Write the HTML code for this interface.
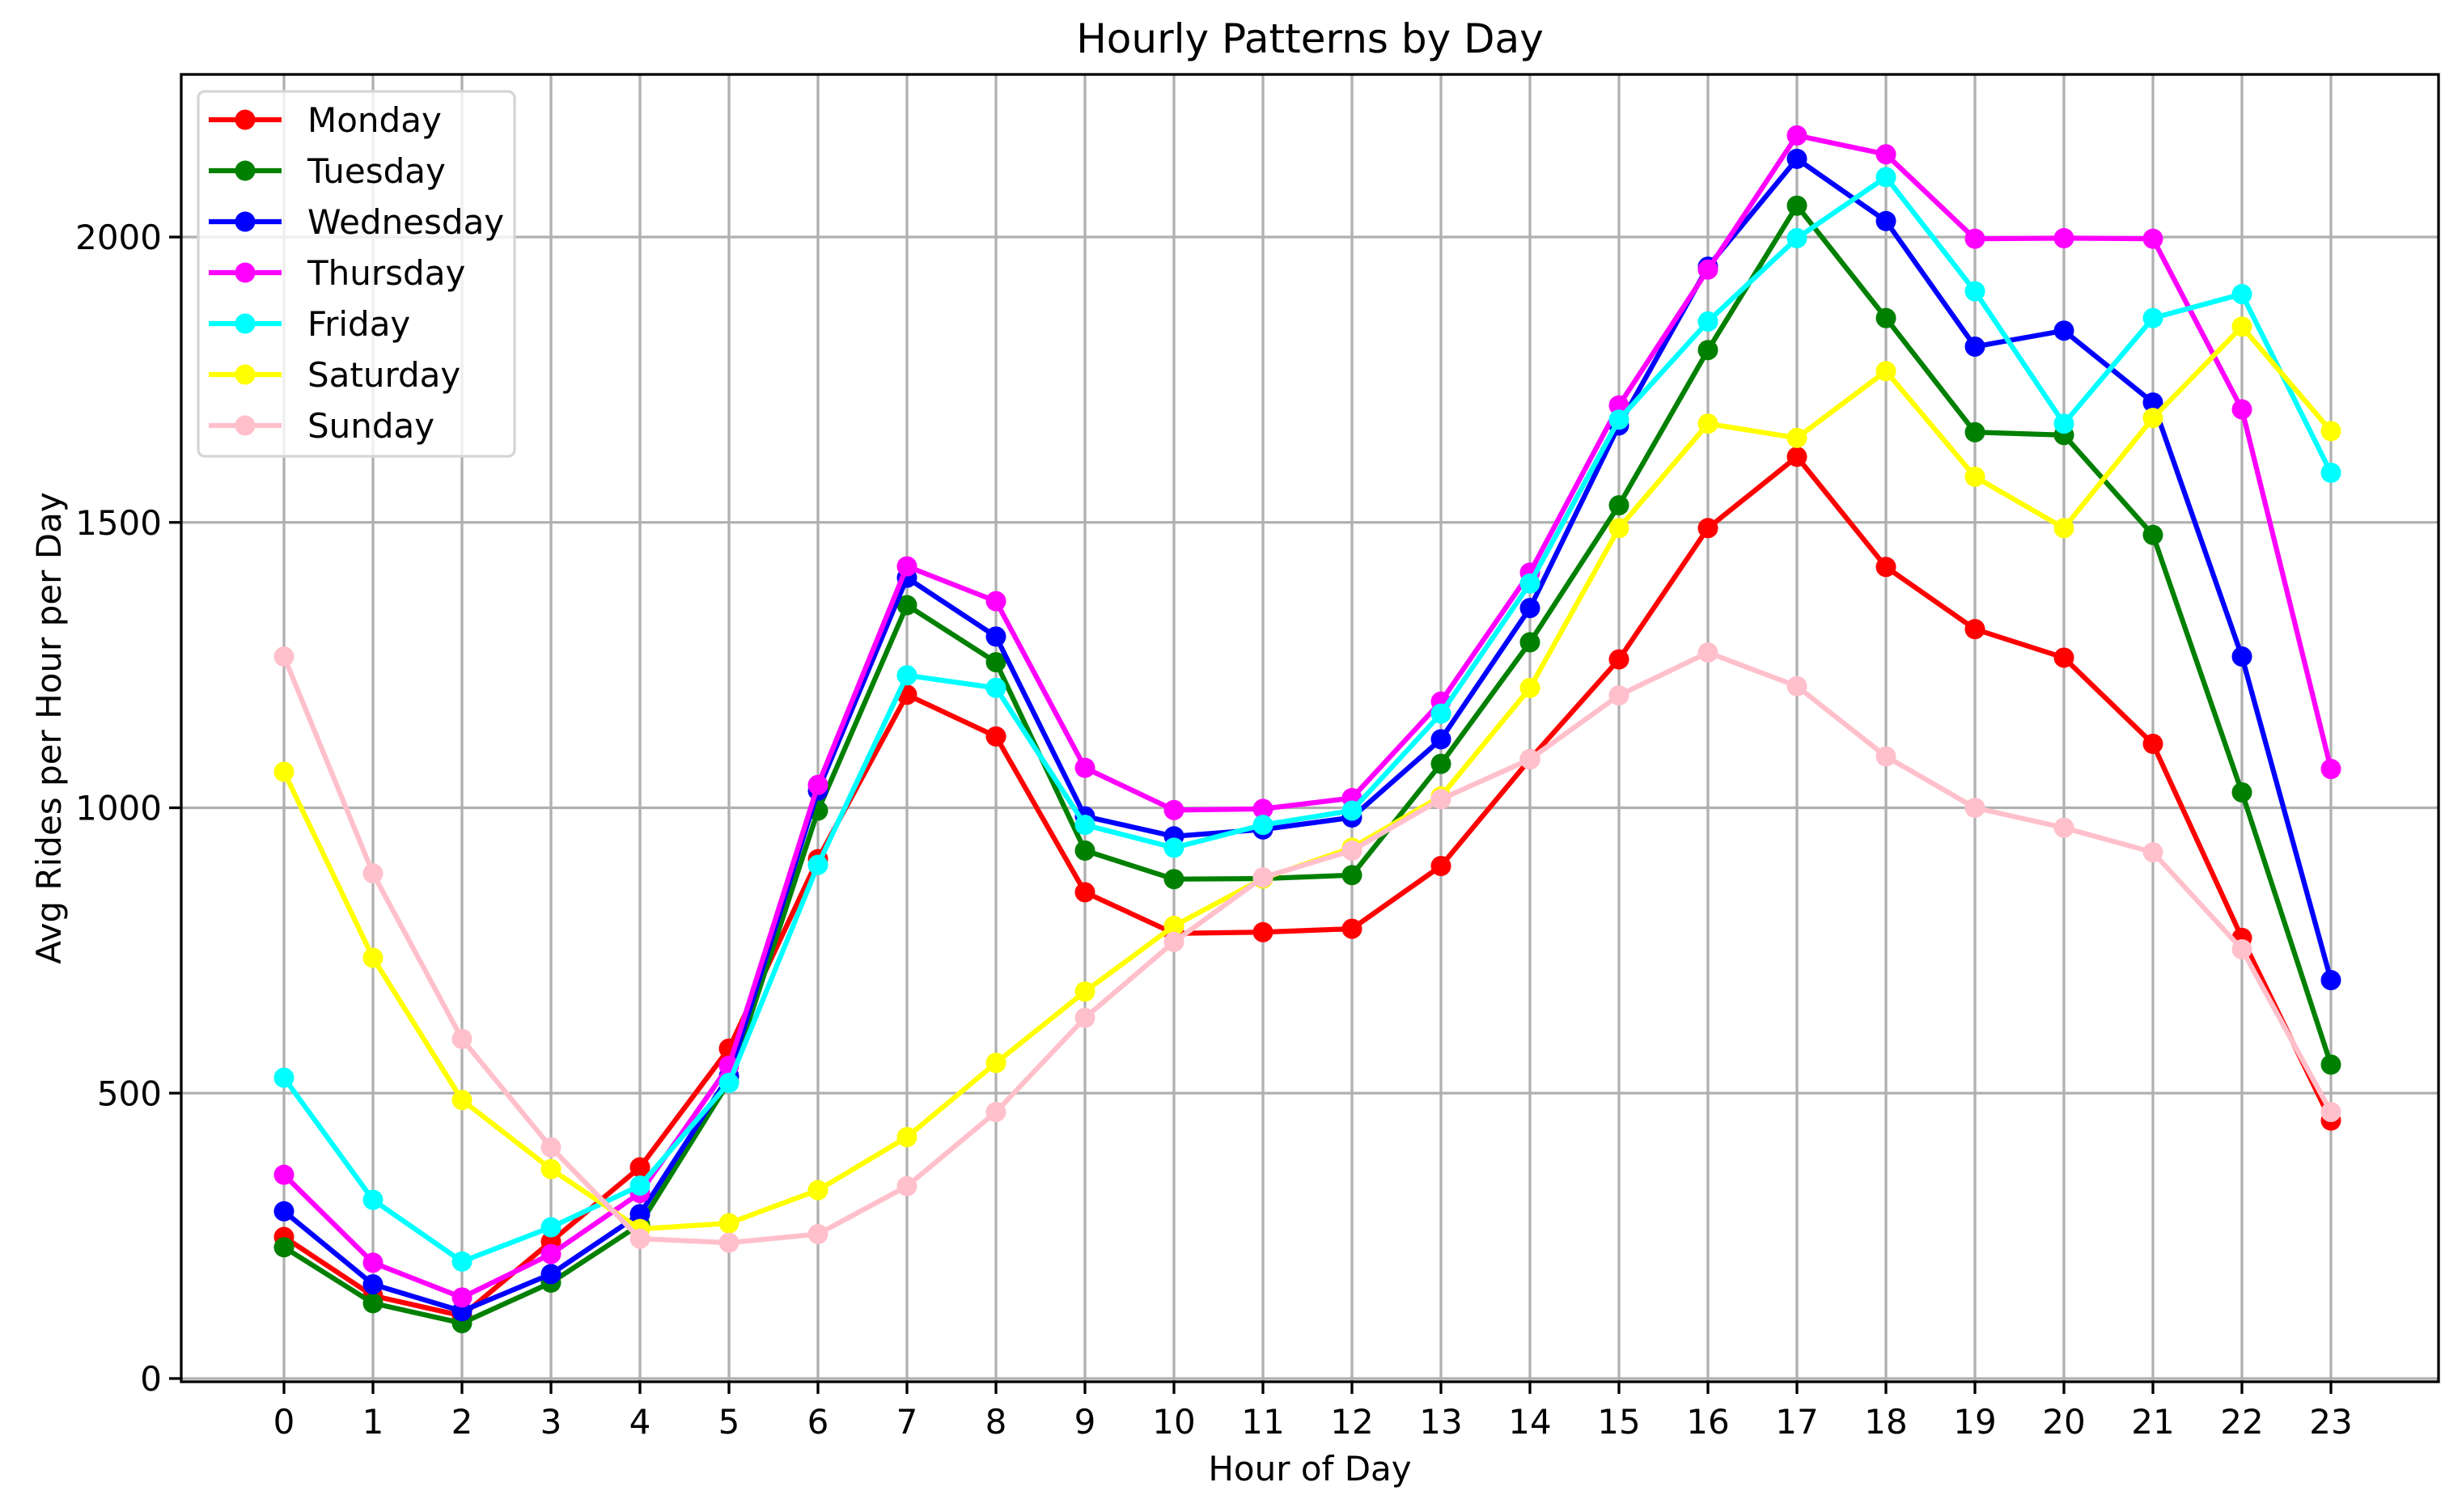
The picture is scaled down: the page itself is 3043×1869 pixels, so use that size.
<!DOCTYPE html>
<html><head><meta charset="utf-8"><style>
html,body{margin:0;padding:0;background:#fff;}
svg{display:block;font-family:"DejaVu Sans","Liberation Sans",sans-serif;}
</style></head><body>
<svg id="chart" width="3043" height="1869" viewBox="0 0 3043 1869" xmlns="http://www.w3.org/2000/svg">
<rect width="3043" height="1869" fill="#fff"/>
<text x="1619" y="65" font-size="50" text-anchor="middle">Hourly Patterns by Day</text>
<text x="1619" y="1830" font-size="42" text-anchor="middle">Hour of Day</text>
<text x="0" y="0" font-size="42" text-anchor="middle" transform="translate(75,900) rotate(-90)">Avg Rides per Hour per Day</text>
<g id="grid"></g>
<g id="series"></g>
<g id="axes"></g>
<g id="legend"></g>
</svg>
<script>
const hours = [0,1,2,3,4,5,6,7,8,9,10,11,12,13,14,15,16,17,18,19,20,21,22,23];
const yTicks = [0,500,1000,1500,2000];
const dayNames = ["Monday","Tuesday","Wednesday","Thursday","Friday","Saturday","Sunday"];
const monday = [248,145,110,240,370,578,910,1198,1125,852,780,782,788,898,1085,1260,1490,1615,1422,1313,1263,1112,772,452];
const tuesday = [230,132,97,168,270,520,995,1355,1255,925,875,876,882,1077,1290,1530,1802,2055,1858,1658,1653,1478,1027,550];
const wednesday = [293,165,118,183,288,530,1030,1403,1300,985,950,962,983,1120,1350,1670,1948,2137,2028,1808,1836,1710,1265,698];
const thursday = [357,203,142,218,325,548,1040,1423,1362,1070,996,998,1017,1186,1412,1705,1943,2178,2145,1997,1998,1997,1698,1068];
const friday = [527,313,205,265,338,518,900,1232,1210,970,930,970,995,1165,1393,1680,1852,1998,2105,1905,1673,1858,1900,1587];
const saturday = [1063,737,488,367,262,272,330,423,553,678,793,876,930,1020,1210,1490,1673,1648,1765,1580,1490,1683,1843,1660];
const sunday = [1265,885,595,405,245,238,253,337,467,632,765,878,925,1015,1085,1197,1272,1213,1090,1000,965,922,752,467];
const seriesValues = [monday,tuesday,wednesday,thursday,friday,saturday,sunday];
const colors = ["#ff0000","#008000","#0000ff","#ff00ff","#00ffff","#ffff00","#ffc0cb"];

const NS="http://www.w3.org/2000/svg";
const L=224,R=3014,T=92,B=1708;
const xS=h=>351+h*110;
const yS=v=>1704-v*(1704-293)/2000;
function mk(tag,attrs,parent){const e=document.createElementNS(NS,tag);for(const k in attrs)e.setAttribute(k,attrs[k]);parent.appendChild(e);return e;}
const grid=document.getElementById('grid'),axes=document.getElementById('axes'),ser=document.getElementById('series'),leg=document.getElementById('legend');

hours.forEach(h=>{
  const g=mk('line',{x1:xS(h),x2:xS(h),y1:T,y2:B,stroke:'#b0b0b0','stroke-width':3.3},grid);
  
  
  const t=mk('line',{x1:xS(h),x2:xS(h),y1:B,y2:B+15,stroke:'#000','stroke-width':3.3},axes);
  
  
  const lb=mk('text',{x:xS(h),y:B+64,'font-size':42,'text-anchor':'middle'},axes);
  lb.textContent=h;
  
  
});
yTicks.forEach(v=>{
  const g=mk('line',{x1:L,x2:R,y1:yS(v),y2:yS(v),stroke:'#b0b0b0','stroke-width':3.3},grid);
  
  
  const t=mk('line',{x1:L-15,x2:L,y1:yS(v),y2:yS(v),stroke:'#000','stroke-width':3.3},axes);
  
  
  const lb=mk('text',{x:L-24,y:yS(v)+15,'font-size':42,'text-anchor':'end'},axes);
  lb.textContent=v;
  
  
});
const frame=mk('rect',{x:L,y:T,width:R-L,height:B-T,fill:'none',stroke:'#000','stroke-width':3.3},axes);



seriesValues.forEach((vals,i)=>{
  const g=mk('g',{},ser);
  
  
  const pts=vals.map((v,j)=>xS(hours[j])+','+yS(v)).join(' ');
  const pl=mk('polyline',{points:pts,fill:'none',stroke:colors[i],'stroke-width':6.25,'stroke-linejoin':'round'},g);
  
  
  vals.forEach((v,j)=>{
    const c=mk('circle',{cx:xS(hours[j]),cy:yS(v),r:12.5,fill:colors[i]},g);
    
    
  });
});

const box=mk('rect',{x:245,y:113,width:391,height:451,rx:8,fill:'#fff','fill-opacity':0.8,stroke:'#d5d5d5','stroke-width':3.3},leg);


dayNames.forEach((n,i)=>{
  const y=148+i*63;
  const g=mk('g',{},leg);
  
  
  mk('line',{x1:258,x2:348,y1:y,y2:y,stroke:colors[i],'stroke-width':6.25},g);
  mk('circle',{cx:303,cy:y,r:12.5,fill:colors[i]},g);
  const t=mk('text',{x:380,y:y+15,'font-size':42},g);
  t.textContent=n;
});
</script>
</body></html>
